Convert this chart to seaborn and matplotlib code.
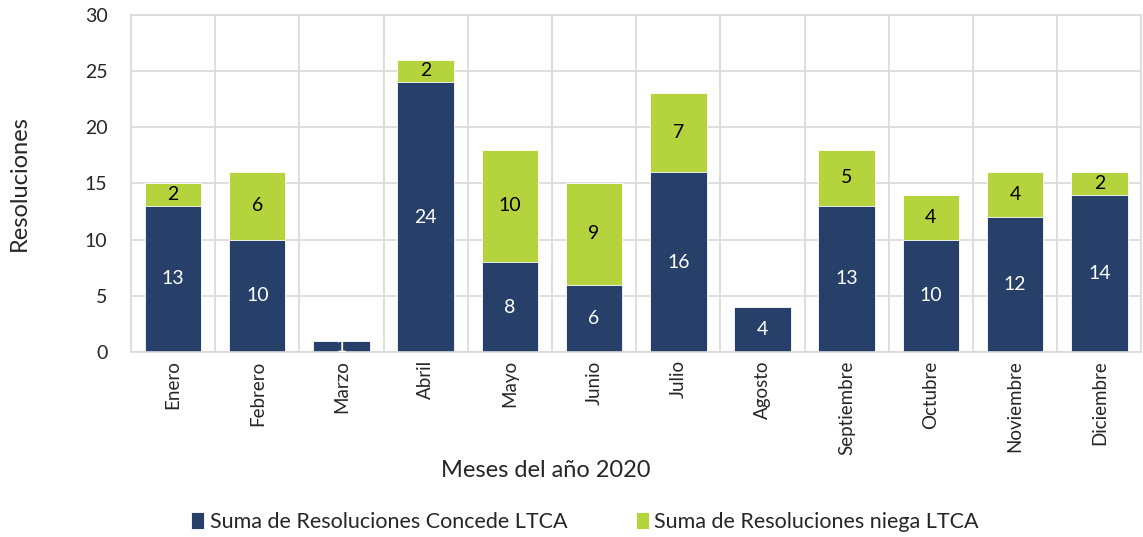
import pandas as pd
import seaborn as sns
import matplotlib.pyplot as plt

meses = ["Enero", "Febrero", "Marzo", "Abril", "Mayo", "Junio", "Julio",
         "Agosto", "Septiembre", "Octubre", "Noviembre", "Diciembre"]
concede = [13, 10, 1, 24, 8, 6, 16, 4, 13, 10, 12, 14]
niega = [2, 6, 0, 2, 10, 9, 7, 0, 5, 4, 4, 2]

sns.set_theme(style="white")
plt.rcParams['font.family'] = ['Lato', 'DejaVu Sans']

azul = "#264069"
verde = "#B5D33D"

df = pd.DataFrame({"mes": meses, "concede": concede, "niega": niega})
df["total"] = df["concede"] + df["niega"]

fig = plt.figure(figsize=(11.43, 5.37), dpi=100)
ax = fig.add_axes([0.1146, 0.3445, 0.884, 0.628])

# total first (green), concede on top of it (navy)
sns.barplot(data=df, x="mes", y="total", color=verde, width=0.67,
            saturation=1, ax=ax, edgecolor="white", linewidth=0.6,
            label="Suma de Resoluciones niega LTCA")
sns.barplot(data=df, x="mes", y="concede", color=azul, width=0.67,
            saturation=1, ax=ax, edgecolor="white", linewidth=0.6,
            label="Suma de Resoluciones Concede LTCA")

# value labels
for i, (c, n) in enumerate(zip(concede, niega)):
    if c > 0:
        ax.text(i, c / 2, str(c), ha="center", va="center", color="white", fontsize=14)
    if n > 0:
        ax.text(i, c + n / 2, str(n), ha="center", va="center", color="black", fontsize=14)

ax.set_ylim(0, 30)
ax.set_yticks(range(0, 31, 5))
ax.set_xlim(-0.5, len(meses) - 0.5)
ax.set_axisbelow(True)
ax.grid(axis="y", color="#d9d9d9", linewidth=1.2)
for b in range(len(meses) + 1):
    ax.axvline(b - 0.5, color="#d9d9d9", linewidth=1.2, zorder=0)
for s in ax.spines.values():
    s.set_color("#d9d9d9")
    s.set_linewidth(1.2)

ax.tick_params(axis="x", labelrotation=90, labelsize=13.5, length=0, pad=6)
ax.tick_params(axis="y", labelsize=14, length=0, pad=17)
ax.set_xlabel("Meses del año 2020", fontsize=17)
ax.xaxis.set_label_coords(0.41, -0.32)
ax.set_ylabel("Resoluciones", fontsize=17)
ax.yaxis.set_label_coords(-0.1, 0.5)

handles, labels = ax.get_legend_handles_labels()
order = [labels.index("Suma de Resoluciones Concede LTCA"),
         labels.index("Suma de Resoluciones niega LTCA")]
fig.legend([handles[k] for k in order], [labels[k] for k in order],
           loc="center", bbox_to_anchor=(585 / 1143, 1 - 522 / 537), ncol=2, frameon=False,
           fontsize=15.5, handlelength=0.6, handleheight=0.8, columnspacing=3.2,
           handletextpad=0.25)
if ax.get_legend() is not None:
    ax.get_legend().remove()

fig.savefig("out.png", dpi=100)
